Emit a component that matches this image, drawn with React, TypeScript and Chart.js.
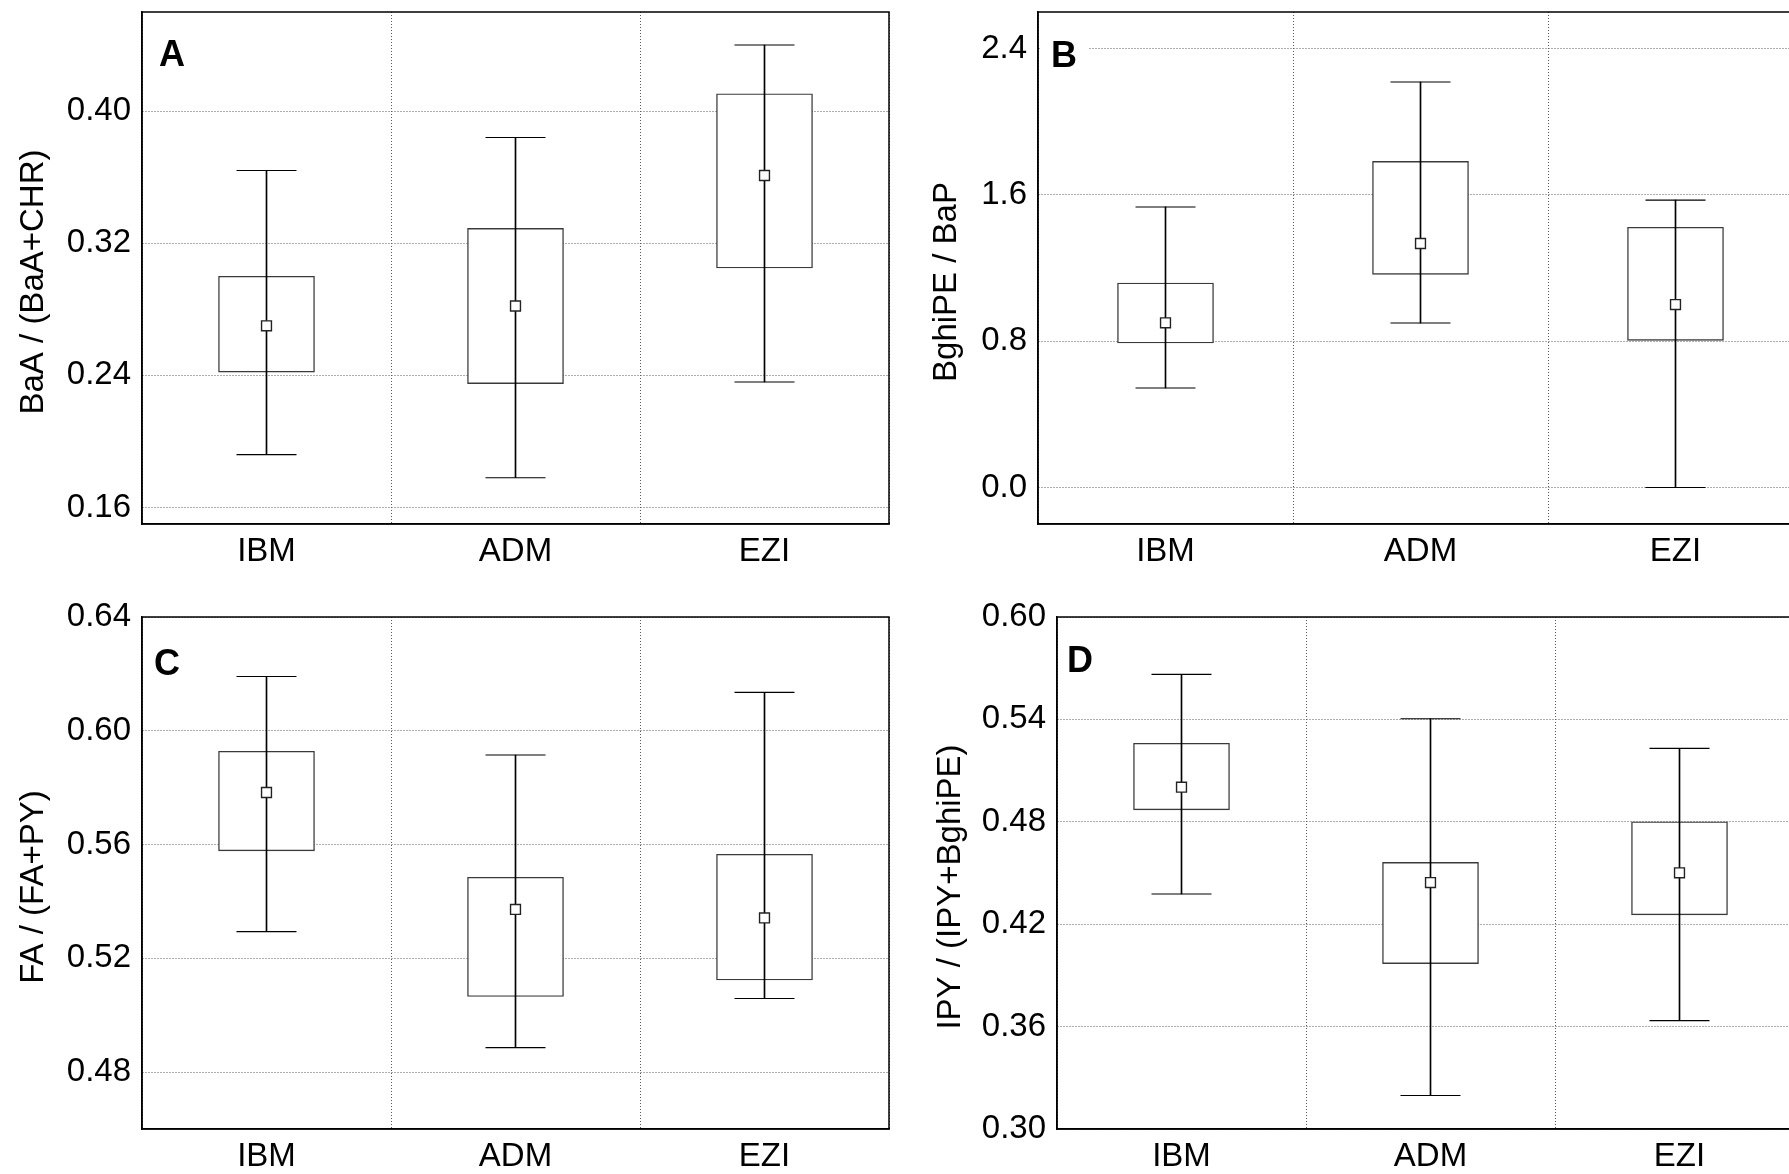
import React, { useEffect, useRef } from "react";
import { Chart, registerables } from "chart.js";

Chart.register(...registerables);

// ---------- data ----------
const categories = ["IBM", "ADM", "EZI"];

// Panel A: BaA / (BaA+CHR)
const meanA = [0.27, 0.282, 0.361];
const boxLowA = [0.242, 0.235, 0.305];
const boxHighA = [0.3, 0.329, 0.4105];
const whiskLowA = [0.192, 0.178, 0.236];
const whiskHighA = [0.364, 0.384, 0.44];
const ticksA = [0.16, 0.24, 0.32, 0.4];

// Panel B: BghiPE / BaP
const meanB = [0.9, 1.334, 1.0];
const boxLowB = [0.79, 1.165, 0.804];
const boxHighB = [1.118, 1.783, 1.423];
const whiskLowB = [0.544, 0.899, 0.0];
const whiskHighB = [1.534, 2.217, 1.571];
const ticksB = [0.0, 0.8, 1.6, 2.4];

// Panel C: FA / (FA+PY)
const meanC = [0.5783, 0.5372, 0.5342];
const boxLowC = [0.5578, 0.5066, 0.5124];
const boxHighC = [0.5928, 0.5485, 0.5566];
const whiskLowC = [0.5294, 0.4886, 0.5059];
const whiskHighC = [0.6191, 0.5915, 0.6135];
const ticksC = [0.48, 0.52, 0.56, 0.6, 0.64];

// Panel D: IPY / (IPY+BghiPE)
const meanD = [0.5003, 0.4444, 0.4501];
const boxLowD = [0.487, 0.3969, 0.4255];
const boxHighD = [0.526, 0.4562, 0.48];
const whiskLowD = [0.4377, 0.3196, 0.3635];
const whiskHighD = [0.5664, 0.5404, 0.523];
const ticksD = [0.3, 0.36, 0.42, 0.48, 0.54, 0.6];

// ---------- layout / style ----------
const FONT = '"Liberation Sans", Arial, Helvetica, sans-serif';
const X_AXIS_H = 60;
const FONT_SIZE = 33;

type PanelDef = {
  letter: string;
  title: string;
  mean: number[];
  boxLow: number[];
  boxHigh: number[];
  whiskLow: number[];
  whiskHigh: number[];
  ticks: number[];
  decimals: number;
  min: number;
  max: number;
  canvas: { left: number; top: number; width: number; height: number };
  area: { L: number; T: number; R: number; B: number };
  titleDX: number;
  letterDX: number;
  letterDY: number;
  letterBg: boolean;
};

const panels: PanelDef[] = [
  {
    letter: "A",
    title: "BaA / (BaA+CHR)",
    mean: meanA, boxLow: boxLowA, boxHigh: boxHighA, whiskLow: whiskLowA, whiskHigh: whiskHighA,
    ticks: ticksA, decimals: 2, min: 0.15, max: 0.46,
    canvas: { left: 0, top: 0, width: 900, height: 590 },
    area: { L: 142, T: 12, R: 889, B: 524 },
    titleDX: 108, letterDX: 17, letterDY: 28, letterBg: false,
  },
  {
    letter: "B",
    title: "BghiPE / BaP",
    mean: meanB, boxLow: boxLowB, boxHigh: boxHighB, whiskLow: whiskLowB, whiskHigh: whiskHighB,
    ticks: ticksB, decimals: 1, min: -0.2, max: 2.6,
    canvas: { left: 900, top: 0, width: 930, height: 590 },
    area: { L: 1038, T: 12, R: 1803, B: 524 },
    titleDX: 91, letterDX: 13, letterDY: 29.5, letterBg: true,
  },
  {
    letter: "C",
    title: "FA / (FA+PY)",
    mean: meanC, boxLow: boxLowC, boxHigh: boxHighC, whiskLow: whiskLowC, whiskHigh: whiskHighC,
    ticks: ticksC, decimals: 2, min: 0.46, max: 0.64,
    canvas: { left: 0, top: 590, width: 900, height: 610 },
    area: { L: 142, T: 617, R: 889, B: 1129 },
    titleDX: 108, letterDX: 12, letterDY: 32, letterBg: false,
  },
  {
    letter: "D",
    title: "IPY / (IPY+BghiPE)",
    mean: meanD, boxLow: boxLowD, boxHigh: boxHighD, whiskLow: whiskLowD, whiskHigh: whiskHighD,
    ticks: ticksD, decimals: 2, min: 0.3, max: 0.6,
    canvas: { left: 900, top: 590, width: 930, height: 610 },
    area: { L: 1057, T: 617, R: 1804, B: 1129 },
    titleDX: 106, letterDX: 10, letterDY: 29, letterBg: false,
  },
];

function Panel({ def }: { def: PanelDef }) {
  const ref = useRef<HTMLCanvasElement | null>(null);

  useEffect(() => {
    const c = def.canvas;
    const a = def.area;
    const padLeft = 0;
    const padTop = a.T - c.top;
    const padRight = c.left + c.width - a.R;
    const padBottom = c.top + c.height - a.B - X_AXIS_H;
    const yAxisW = a.L - c.left - padLeft;

    const framePlugin = {
      id: "framePlugin",
      afterDraw(chart: any) {
        const ctx = chart.ctx;
        const ca = chart.chartArea;
        ctx.save();
        // frame
        ctx.strokeStyle = "#000";
        ctx.lineWidth = 1.5;
        ctx.setLineDash([]);
        ctx.strokeRect(ca.left, ca.top, ca.right - ca.left, ca.bottom - ca.top);

        // panel letter
        ctx.font = `bold 36px ${FONT}`;
        const capH = 36 * 0.716;
        const lx = ca.left + def.letterDX;
        const ly = ca.top + def.letterDY;
        if (def.letterBg) {
          ctx.fillStyle = "#fff";
          ctx.fillRect(ca.left + 3, ly - 4, 47, capH + 8);
        }
        ctx.fillStyle = "#000";
        ctx.textAlign = "left";
        ctx.textBaseline = "alphabetic";
        ctx.fillText(def.letter, lx, ly + capH);

        // y-axis title
        ctx.font = `${FONT_SIZE}px ${FONT}`;
        ctx.translate(ca.left - def.titleDX, (ca.top + ca.bottom) / 2 + 14);
        ctx.rotate(-Math.PI / 2);
        ctx.textAlign = "center";
        ctx.textBaseline = "middle";
        ctx.fillText(def.title, 0, 0);
        ctx.restore();
      },
    };

    const cfg: any = {
      type: "bar",
      data: {
        labels: categories,
        datasets: [
          {
            type: "bar",
            data: def.boxLow.map((v, i) => [v, def.boxHigh[i]]),
            backgroundColor: "#ffffff",
            borderColor: "#3a3a3a",
            borderWidth: 1.4,
            borderSkipped: false,
            barThickness: 96,
            grouped: false,
            order: 4,
          },
          {
            type: "bar",
            data: def.whiskLow.map((v, i) => [v, def.whiskHigh[i]]),
            backgroundColor: "#000000",
            borderWidth: 0,
            barThickness: 1,
            grouped: false,
            order: 3,
          },
          {
            type: "line",
            data: def.whiskHigh,
            showLine: false,
            pointStyle: "line",
            pointRadius: 30,
            pointBorderColor: "#000",
            pointBorderWidth: 1.1,
            order: 2,
          },
          {
            type: "line",
            data: def.whiskLow,
            showLine: false,
            pointStyle: "line",
            pointRadius: 30,
            pointBorderColor: "#000",
            pointBorderWidth: 1.1,
            order: 2,
          },
          {
            type: "line",
            data: def.mean,
            showLine: false,
            pointStyle: "rect",
            pointRadius: 7,
            pointBackgroundColor: "#ffffff",
            pointBorderColor: "#222222",
            pointBorderWidth: 1.4,
            order: 1,
          },
        ],
      },
      options: {
        responsive: false,
        animation: false,
        devicePixelRatio: 1,
        events: [],
        layout: {
          autoPadding: false,
          padding: { left: padLeft, top: padTop, right: padRight, bottom: padBottom },
        },
        plugins: { legend: { display: false }, tooltip: { enabled: false }, title: { display: false } },
        scales: {
          x: {
            type: "category",
            offset: true,
            grid: { offset: true, color: "#5a5a5a", lineWidth: 1, drawTicks: false },
            border: { display: true, color: "#000", width: 1.5, dash: [1, 2] },
            ticks: { font: { family: FONT, size: FONT_SIZE }, color: "#000", padding: 8, maxRotation: 0, autoSkip: false },
            afterFit: (s: any) => {
              s.height = X_AXIS_H;
              s.paddingLeft = 0;
              s.paddingRight = 0;
            },
          },
          y: {
            type: "linear",
            min: def.min,
            max: def.max,
            grid: { color: "#5a5a5a", lineWidth: 1, drawTicks: false },
            border: { display: true, color: "#000", width: 1.5, dash: [1, 2] },
            ticks: {
              font: { family: FONT, size: FONT_SIZE },
              color: "#000",
              padding: 11,
              callback: (v: any) => Number(v).toFixed(def.decimals),
            },
            afterBuildTicks: (s: any) => {
              s.ticks = def.ticks.map((v) => ({ value: v }));
            },
            afterFit: (s: any) => {
              s.width = yAxisW;
              s.paddingTop = 0;
              s.paddingBottom = 0;
            },
          },
        },
      },
      plugins: [framePlugin],
    };

    const chart = new Chart(ref.current as HTMLCanvasElement, cfg);
    return () => chart.destroy();
  }, [def]);

  return (
    <canvas
      ref={ref}
      width={def.canvas.width}
      height={def.canvas.height}
      style={{
        position: "absolute",
        left: def.canvas.left,
        top: def.canvas.top,
        width: def.canvas.width,
        height: def.canvas.height,
      }}
    />
  );
}

export default function App() {
  return (
    <div
      style={{
        position: "fixed",
        left: 0,
        top: 0,
        width: 1789,
        height: 1174,
        overflow: "hidden",
        background: "#ffffff",
      }}
    >
      {panels.map((p) => (
        <Panel key={p.letter} def={p} />
      ))}
    </div>
  );
}
